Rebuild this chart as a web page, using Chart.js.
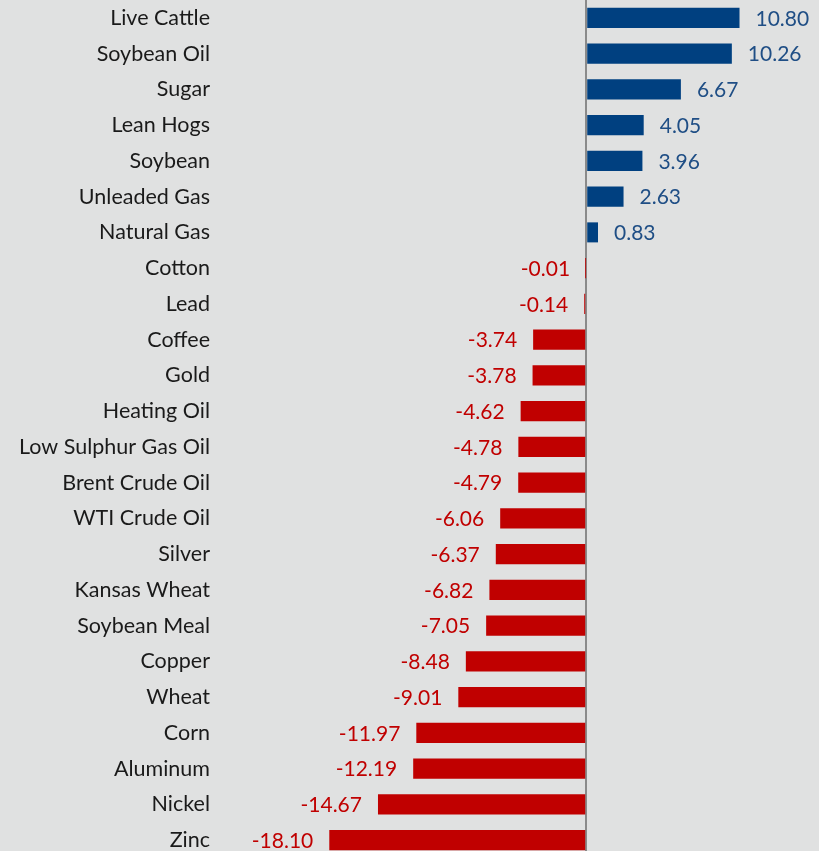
<!DOCTYPE html>
<html>
<head>
<meta charset="utf-8">
<script src="https://cdn.jsdelivr.net/npm/chart.js@4/dist/chart.umd.min.js"></script>
<style>
  html, body { margin: 0; padding: 0; overflow: hidden; background: #e0e1e1; }
  #wrap { width: 819px; height: 858px; }
</style>
</head>
<body>
<div id="wrap"><canvas id="chart" width="819" height="858"></canvas></div>
<script>
// commodity returns, %
const commodities = [
    'Live Cattle', 'Soybean Oil', 'Sugar', 'Lean Hogs', 'Soybean', 'Unleaded Gas',
    'Natural Gas', 'Cotton', 'Lead', 'Coffee', 'Gold', 'Heating Oil',
    'Low Sulphur Gas Oil', 'Brent Crude Oil', 'WTI Crude Oil', 'Silver', 'Kansas Wheat',
    'Soybean Meal', 'Copper', 'Wheat', 'Corn', 'Aluminum', 'Nickel', 'Zinc'
];
const returns = [
    10.80, 10.26, 6.67, 4.05, 3.96, 2.63,
    0.83, -0.01, -0.14, -3.74, -3.78, -4.62,
    -4.78, -4.79, -6.06, -6.37, -6.82,
    -7.05, -8.48, -9.01, -11.97, -12.19, -14.67, -18.10
];

const blueBar = '#004080';
const blueText = '#1f4e85';
const redBar = '#c00000';
const redText = '#c00000';

// value labels next to each bar end
const valueLabels = {
    id: 'valueLabels',
    afterDatasetsDraw(chart) {
        const ctx = chart.ctx;
        const meta = chart.getDatasetMeta(0);
        ctx.save();
        ctx.font = '21px Lato, "Open Sans", sans-serif';
        ctx.textBaseline = 'middle';
        meta.data.forEach((bar, i) => {
            const v = returns[i];
            const txt = v.toFixed(2);
            if (v >= 0) {
                ctx.fillStyle = blueText;
                ctx.textAlign = 'left';
                ctx.fillText(txt, bar.x + 16, bar.y + 1);
            } else {
                ctx.fillStyle = redText;
                ctx.textAlign = 'right';
                ctx.fillText(txt, bar.x - 16, bar.y + 1);
            }
        });
        ctx.restore();
    }
};

new Chart(document.getElementById('chart'), {
    type: 'bar',
    data: {
        labels: commodities,
        datasets: [{
            data: returns,
            backgroundColor: returns.map(v => v >= 0 ? blueBar : redBar),
            borderWidth: 0,
            categoryPercentage: 1,
            barPercentage: 0.56
        }]
    },
    options: {
        indexAxis: 'y',
        responsive: false,
        animation: false,
        layout: { padding: 0 },
        plugins: {
            legend: { display: false },
            tooltip: { enabled: false }
        },
        scales: {
            x: {
                min: -25.8,
                max: 16.4,
                ticks: { display: false, stepSize: 1 },
                border: { display: false },
                grid: {
                    drawTicks: false,
                    lineWidth: 2,
                    color: c => c.tick && c.tick.value === 0 ? '#8a8a8a' : 'rgba(0,0,0,0)'
                }
            },
            y: {
                afterFit(scale) {
                    scale.width = 220;
                    scale.paddingTop = 0;
                    scale.paddingBottom = 0;
                },
                border: { display: false },
                grid: { display: false, drawTicks: false },
                ticks: {
                    color: '#1a1a1a',
                    padding: 10,
                    font: { family: 'Lato, "Open Sans", sans-serif', size: 21.5 }
                }
            }
        }
    },
    plugins: [valueLabels]
});
</script>
</body>
</html>
